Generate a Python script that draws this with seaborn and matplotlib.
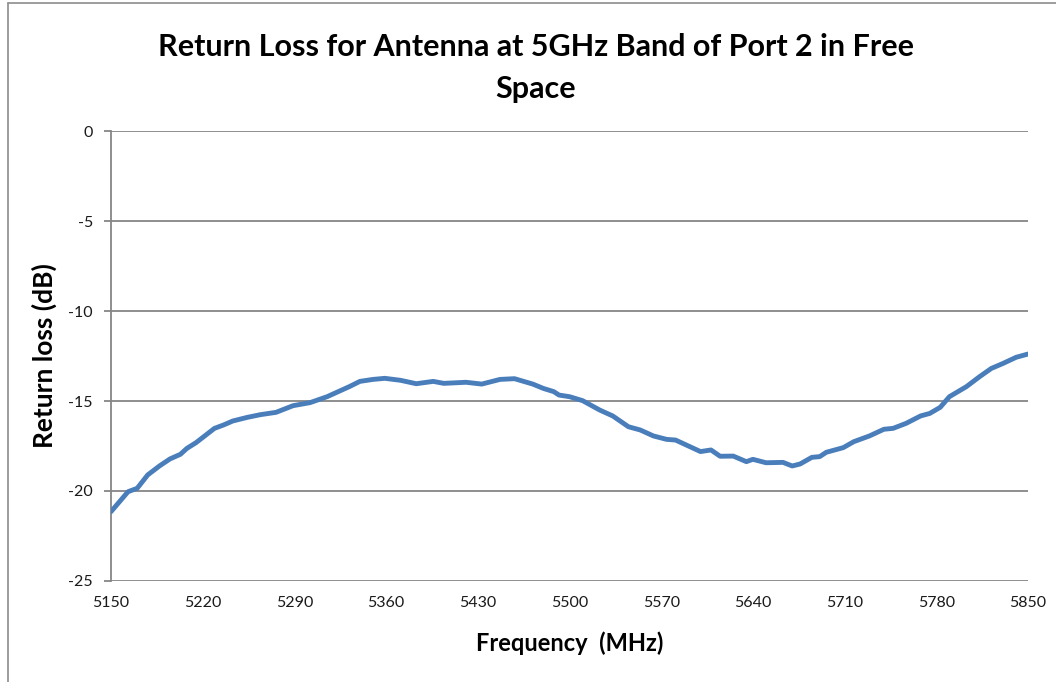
import numpy as np
import pandas as pd
import matplotlib.pyplot as plt
from matplotlib.lines import Line2D
import seaborn as sns

sns.set_style('white')
plt.rcParams['font.family'] = ['Lato', 'DejaVu Sans']
plt.rcParams['text.color'] = 'black'
plt.rcParams['axes.labelcolor'] = 'black'

# values
freq_mhz = [5150, 5163, 5170, 5178, 5187, 5195, 5203, 5208, 5215, 5229,
            5236, 5243, 5254, 5264, 5276, 5289, 5302, 5315, 5325, 5332,
            5340, 5350, 5359, 5371, 5383, 5396, 5404, 5421, 5433, 5447,
            5458, 5472, 5480, 5488, 5492, 5500, 5510, 5523, 5533, 5545,
            5554, 5564, 5574, 5581, 5589, 5600, 5608, 5615, 5625, 5635,
            5640, 5650, 5663, 5670, 5676, 5685, 5691, 5696, 5709, 5717,
            5729, 5740, 5747, 5757, 5768, 5775, 5783, 5790, 5803, 5813,
            5822, 5831, 5841, 5850]
return_loss = [-21.15, -20.04, -19.85, -19.11, -18.61, -18.22, -17.96, -17.63, -17.31, -16.52,
               -16.33, -16.11, -15.91, -15.76, -15.63, -15.26, -15.09, -14.76, -14.43, -14.20,
               -13.91, -13.80, -13.74, -13.85, -14.04, -13.91, -14.02, -13.96, -14.06, -13.80,
               -13.76, -14.06, -14.30, -14.48, -14.67, -14.76, -14.98, -15.50, -15.83, -16.43,
               -16.61, -16.94, -17.13, -17.17, -17.44, -17.81, -17.72, -18.07, -18.06, -18.37,
               -18.24, -18.43, -18.41, -18.61, -18.50, -18.13, -18.09, -17.85, -17.59, -17.26,
               -16.94, -16.57, -16.52, -16.24, -15.83, -15.69, -15.35, -14.76, -14.20, -13.65,
               -13.19, -12.91, -12.57, -12.39]
x_ticks = [5150, 5220, 5290, 5360, 5430, 5500, 5570, 5640, 5710, 5780, 5850]
y_ticks = [0, -5, -10, -15, -20, -25]

df = pd.DataFrame({'freq': freq_mhz, 'rl': return_loss})

fig = plt.figure(figsize=(10.56, 6.82), dpi=100)
ax = fig.add_axes([0.1051, 0.1481, 0.8684, 0.6598])

grid_col = '#868686'
for yv in y_ticks:
    ax.axhline(yv, color=grid_col, linewidth=1.3, zorder=1)

sns.lineplot(data=df, x='freq', y='rl', ax=ax, color='#4a7ebb',
             linewidth=3.5, zorder=3)

ax.set_xlim(5150, 5850)
ax.set_ylim(-25, 0)
ax.set_xticks(x_ticks)
ax.set_yticks(y_ticks)
ax.set_xticklabels([str(v) for v in x_ticks], fontsize=11.5)
ax.set_yticklabels([str(v) for v in y_ticks], fontsize=11.5)
ax.tick_params(axis='x', length=0, pad=11, labelcolor='#1a1a1a')
ax.tick_params(axis='y', length=5, width=1.3, color=grid_col, pad=8, direction='out',
               left=True, labelcolor='#1a1a1a')

for s in ['top', 'right', 'bottom']:
    ax.spines[s].set_visible(False)
ax.spines['left'].set_color(grid_col)
ax.spines['left'].set_linewidth(1.3)

ax.set_xlabel('Frequency  (MHz)', fontsize=17, fontweight='bold', labelpad=15)
ax.set_ylabel('Return loss (dB)', fontsize=19, fontweight='bold', labelpad=8)

fig.text(0.5076, 0.952, 'Return Loss for Antenna at 5GHz Band of Port 2 in Free\nSpace',
         ha='center', va='top', fontsize=22, fontweight='bold', linespacing=1.6)

# outer chart frame (top and left edges visible)
fig.add_artist(Line2D([0.0076, 0.0076], [0, 0.996], transform=fig.transFigure,
                      color='#8c8c8c', linewidth=1.2))
fig.add_artist(Line2D([0.0076, 1], [0.996, 0.996], transform=fig.transFigure,
                      color='#8c8c8c', linewidth=1.2))

fig.savefig('out.png', dpi=100, facecolor='white')
